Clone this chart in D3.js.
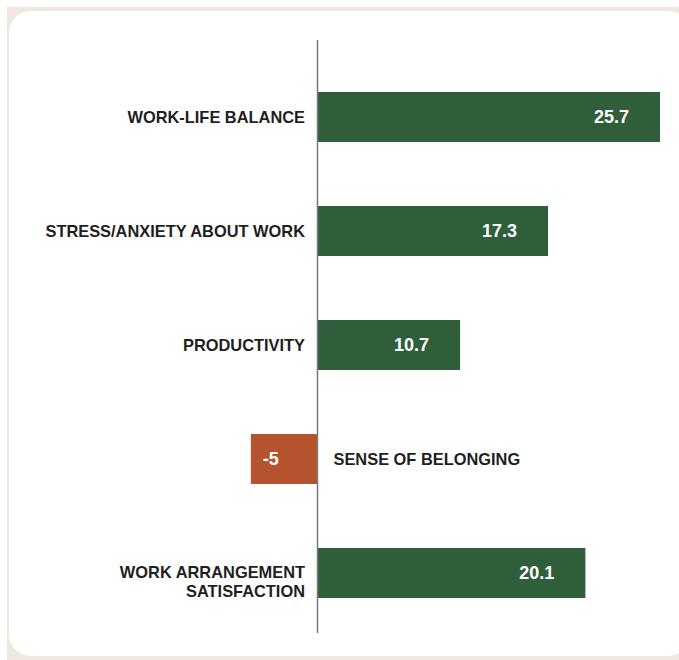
<!DOCTYPE html>
<html>
<head>
<meta charset="utf-8">
<script src="https://cdn.jsdelivr.net/npm/d3@7/dist/d3.min.js"></script>
<style>
  html, body { margin: 0; padding: 0; background: #ffffff; }
  svg { display: block; }
</style>
</head>
<body>
<svg id="chart" width="679" height="660"></svg>
<script>
// Change in share of respondents, by dimension
const categories = [
  ["WORK-LIFE BALANCE"],
  ["STRESS/ANXIETY ABOUT WORK"],
  ["PRODUCTIVITY"],
  ["SENSE OF BELONGING"],
  ["WORK ARRANGEMENT", "SATISFACTION"]
];
const values = [25.7, 17.3, 10.7, -5, 20.1];
const valueLabels = ["25.7", "17.3", "10.7", "-5", "20.1"];

const W = 679, H = 660;
const svg = d3.select("#chart");

// Frame and card
svg.append("rect")
  .attr("x", 7).attr("y", 7).attr("width", W).attr("height", H)
  .attr("fill", "#efe8e1");
svg.append("rect")
  .attr("x", 9).attr("y", 11).attr("width", W + 2).attr("height", 645)
  .attr("rx", 22).attr("ry", 22)
  .attr("fill", "#ffffff");

// Scales
const x = d3.scaleLinear().domain([0, 25.7]).range([317.5, 660]);
const y = d3.scalePoint().domain(d3.range(categories.length)).range([117, 573]);
const barH = 50;

const green = "#2e5e3a";
const red = "#b5532f";
const font = "'Liberation Sans', Arial, Helvetica, sans-serif";

const rows = svg.append("g").selectAll("g")
  .data(values.map((v, i) => ({ v, i, label: categories[i], text: valueLabels[i] })))
  .join("g");

rows.append("rect")
  .attr("x", d => x(Math.min(0, d.v)))
  .attr("y", d => y(d.i) - barH / 2)
  .attr("width", d => Math.abs(x(d.v) - x(0)))
  .attr("height", barH)
  .attr("fill", d => d.v < 0 ? red : green);

// Value labels inside bars
rows.append("text")
  .attr("x", d => d.v < 0 ? x(d.v) + 12 : x(d.v) - 31)
  .attr("y", d => y(d.i))
  .attr("dy", "0.35em")
  .attr("text-anchor", d => d.v < 0 ? "start" : "end")
  .attr("fill", "#ffffff")
  .attr("font-family", font)
  .attr("font-weight", "bold")
  .attr("font-size", 18)
  .text(d => d.text);

// Category labels
const cat = rows.append("text")
  .attr("x", d => d.v < 0 ? x(0) + 16 : x(0) - 12.5)
  .attr("text-anchor", d => d.v < 0 ? "start" : "end")
  .attr("fill", "#1f1f1f")
  .attr("font-family", font)
  .attr("font-weight", "bold")
  .attr("font-size", 16.4);

cat.selectAll("tspan")
  .data(d => d.label.map((t, k) => ({ t, k, n: d.label.length, yc: y(d.i), neg: d.v < 0 })))
  .join("tspan")
  .attr("x", function () { return d3.select(this.parentNode).attr("x"); })
  .attr("y", l => l.yc + (l.k - (l.n - 1) / 2) * 19 + (l.n > 1 ? 9 : 0))
  .attr("dy", "0.35em")
  .text(l => l.t);

// Zero axis line
svg.append("line")
  .attr("x1", x(0)).attr("x2", x(0))
  .attr("y1", 40).attr("y2", 633)
  .attr("stroke", "#7a7a7a")
  .attr("stroke-width", 1.5);
</script>
</body>
</html>
